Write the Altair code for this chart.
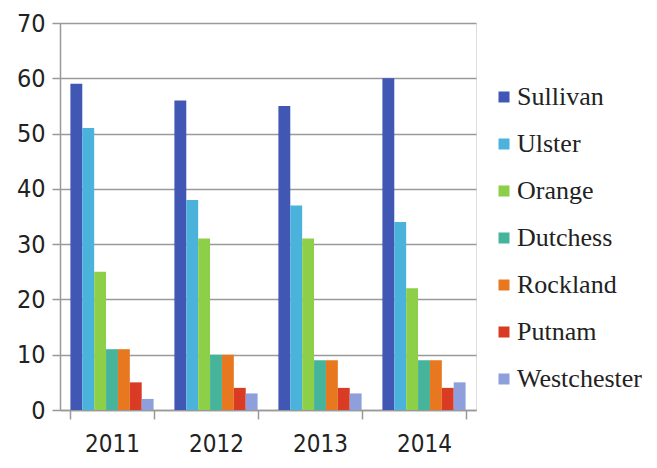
import altair as alt
import pandas as pd

years = ["2011", "2012", "2013", "2014"]
counties = ["Sullivan", "Ulster", "Orange", "Dutchess", "Rockland", "Putnam", "Westchester"]
colors = ["#4157B4", "#4BB2DC", "#8DCF48", "#46B49B", "#E8781F", "#D93B25", "#8E9FDC"]
values = {
    "Sullivan": [59, 56, 55, 60],
    "Ulster": [51, 38, 37, 34],
    "Orange": [25, 31, 31, 22],
    "Dutchess": [11, 10, 9, 9],
    "Rockland": [11, 10, 9, 9],
    "Putnam": [5, 4, 4, 4],
    "Westchester": [2, 3, 3, 5],
}

rows = []
for c in counties:
    for y, v in zip(years, values[c]):
        rows.append({"Year": y, "County": c, "Value": v})
df = pd.DataFrame(rows)

sans = "DejaVu Sans Condensed"

chart = alt.Chart(df).mark_bar().encode(
    x=alt.X("Year:N", sort=years,
            scale=alt.Scale(paddingInner=0.2, paddingOuter=0.1),
            axis=alt.Axis(title=None, labelAngle=0, labelFont=sans, labelFontSize=24,
                          labelColor="#222", labelPadding=13, tickBand="extent",
                          tickSize=9, tickColor="#999", domainColor="#999",
                          domainWidth=1.5, tickWidth=1.5)),
    xOffset=alt.XOffset("County:N", sort=counties, scale=alt.Scale(paddingInner=0, paddingOuter=0)),
    y=alt.Y("Value:Q", scale=alt.Scale(domain=[0, 70]),
            axis=alt.Axis(title=None, values=[0, 10, 20, 30, 40, 50, 60, 70],
                          labelFont=sans, labelFontSize=25, labelColor="#222",
                          labelPadding=7, tickSize=8, tickColor="#999",
                          domainColor="#999", domainWidth=1.5, tickWidth=1.5,
                          gridColor="#9A9A9A", gridWidth=1.5)),
    color=alt.Color("County:N", sort=counties,
                    scale=alt.Scale(domain=counties, range=colors),
                    legend=alt.Legend(title=None, orient="none", legendX=431, legendY=61,
                                      symbolType="square", symbolSize=121,
                                      symbolStrokeWidth=0,
                                      labelFont="Liberation Serif", labelFontSize=26,
                                      labelColor="#222", rowPadding=21, labelOffset=0)),
).properties(
    width=416, height=387,
    autosize=alt.AutoSizeParams(type="none"),
    padding={"left": 52, "top": 15, "right": 173, "bottom": 50},
).configure_view(stroke=None).configure(background="white")

chart.save("out.html", embed_options={"renderer": "svg", "actions": False})
